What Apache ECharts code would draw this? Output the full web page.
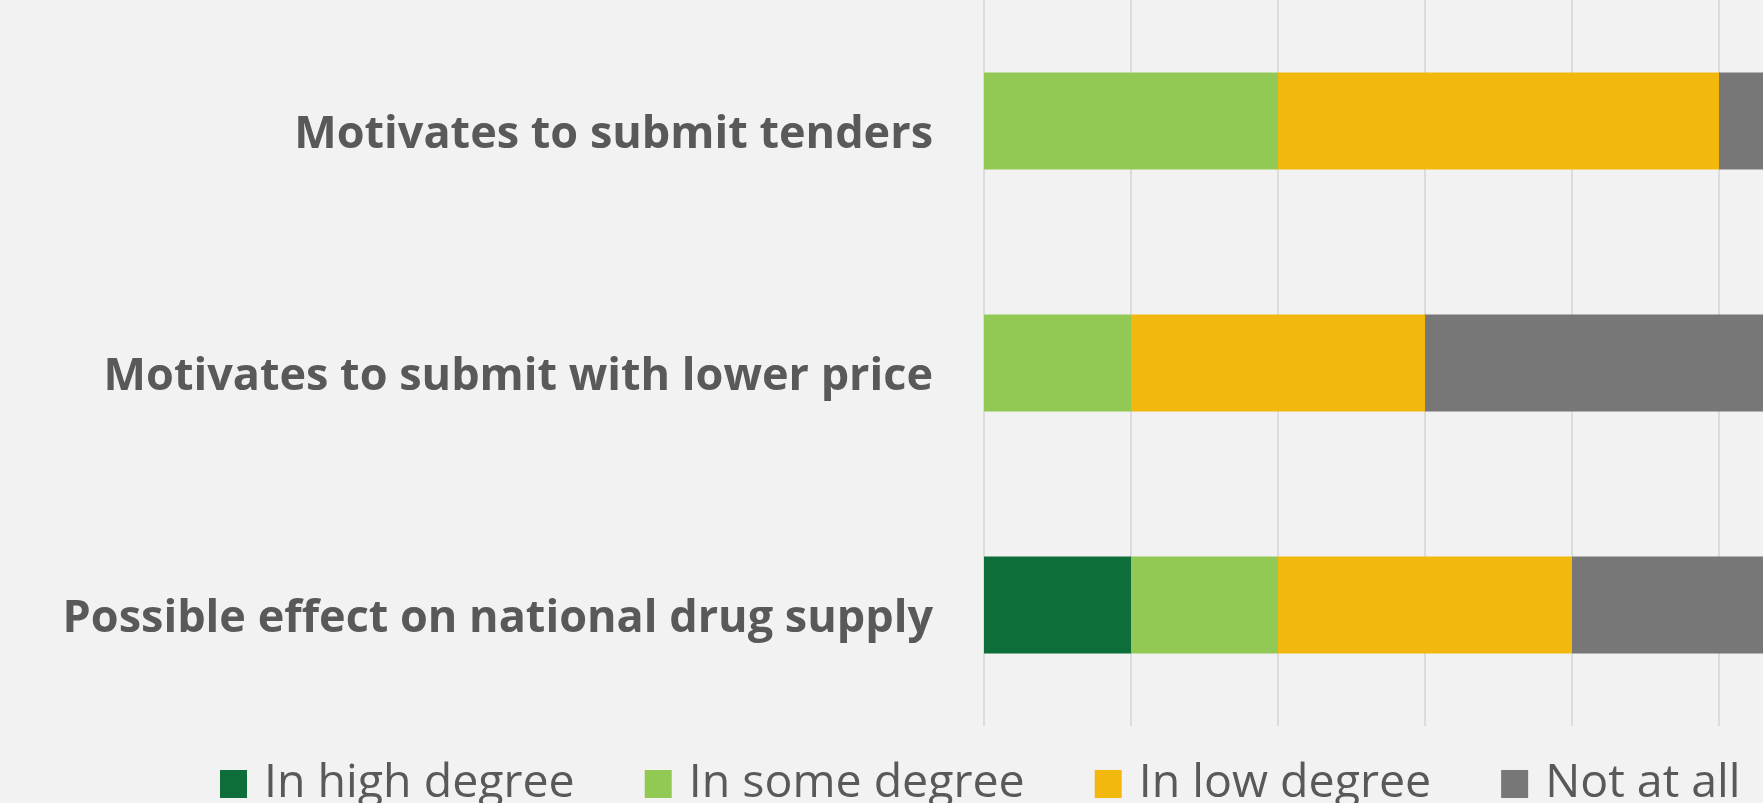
<!DOCTYPE html>
<html>
<head>
<meta charset="utf-8">
<script src="https://cdn.jsdelivr.net/npm/echarts@6/dist/echarts.min.js"></script>
<style>
html,body{margin:0;padding:0;background:#F2F2F2;overflow:hidden;width:1763px;height:803px;}
#c{width:2013px;height:803px;}
</style>
</head>
<body>
<div id="c"></div>
<script>
const categories = ["Motivates to submit tenders", "Motivates to submit with lower price", "Possible effect on national drug supply"];
const seriesNames = ["In high degree", "In some degree", "In low degree", "Not at all"];
const highDegree = [0, 0, 1];
const someDegree = [2, 1, 1];
const lowDegree = [3, 2, 2];
const notAtAll = [2, 4, 3];
const colors = ["#0E6E3A", "#92C955", "#F2B80E", "#777777"];

const values = [highDegree, someDegree, lowDegree, notAtAll];
const chart = echarts.init(document.getElementById('c'), null, {renderer: 'canvas'});
chart.setOption({
  backgroundColor: '#F2F2F2',
  animation: false,
  grid: {left: 984, top: 0, width: 1029, height: 726, containLabel: false},
  xAxis: {
    type: 'value', min: 0, max: 7, interval: 1,
    axisLabel: {show: false},
    axisLine: {show: false},
    axisTick: {show: false},
    splitLine: {show: true, lineStyle: {color: '#D4D4D4', width: 1.5}}
  },
  yAxis: {
    type: 'category', data: categories, inverse: true,
    axisLine: {show: false}, axisTick: {show: false},
    axisLabel: {margin: 51, color: '#595959', fontFamily: 'Open Sans', fontWeight: 'bold', fontSize: 45, verticalAlign: 'top', lineHeight: 28}
  },
  legend: {
    left: 220, top: 760, padding: 0,
    itemWidth: 27, itemHeight: 28, itemGap: 70,
    icon: 'rect',
    textStyle: {color: '#595959', fontFamily: 'Open Sans', fontSize: 46.5, lineHeight: 48, padding: [0,0,0,12]},
    data: seriesNames
  },
  series: seriesNames.map((n, i) => ({
    name: n, type: 'bar', stack: 'total', barWidth: '40%',
    itemStyle: {color: colors[i]},
    data: values[i]
  }))
});
</script>
</body>
</html>
